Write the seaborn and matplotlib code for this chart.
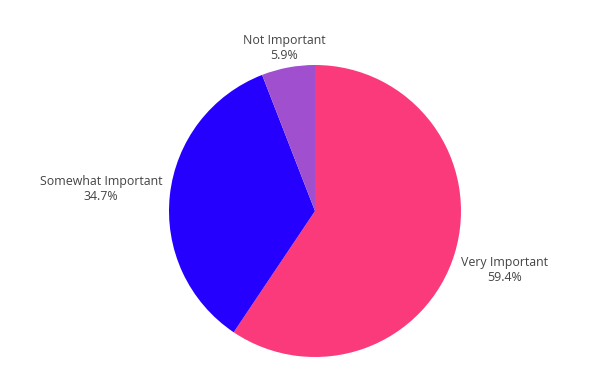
import matplotlib
matplotlib.use("Agg")
import matplotlib.pyplot as plt
import seaborn as sns

categories = ["Very Important", "Somewhat Important", "Not Important"]
values = [59.4, 34.7, 5.9]
colors = ["#FB3A7B", "#2600FF", "#A04FCF"]
label_pos = [(1.295, -0.401), (-1.466, 0.151), (-0.212, 1.116)]

sns.set_theme(style="white")
plt.rcParams['font.family'] = ['Open Sans', 'DejaVu Sans']

fig = plt.figure(figsize=(6.08, 3.82), dpi=100)
ax = fig.add_axes([0, 0, 1, 1])
ax.pie(values, colors=colors, startangle=90, counterclock=False,
       radius=1.0, center=(0, 0), wedgeprops=dict(linewidth=0))
ax.set_xlim(-315 / 146, (608 - 315) / 146)
ax.set_ylim(-171 / 146, (382 - 171) / 146)
ax.set_aspect('auto')
ax.axis('off')

for cat, val, (x, y) in zip(categories, values, label_pos):
    ax.text(x, y, f"{cat}\n{val:.1f}%", ha='center', va='center',
            fontsize=8.9, color='#444444', linespacing=1.2)

fig.savefig("out.png", dpi=100, facecolor='white')
